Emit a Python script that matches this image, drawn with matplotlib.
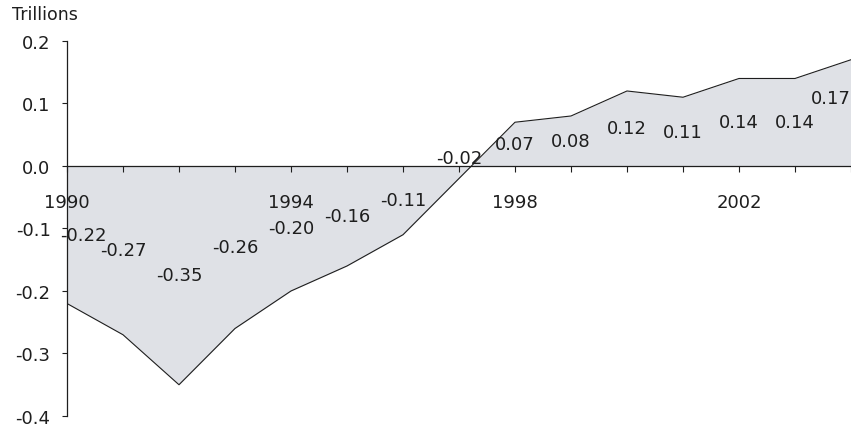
import matplotlib
matplotlib.use('Agg')
import matplotlib.pyplot as plt

plt.rcParams['font.family'] = ['DejaVu Sans']

# Yearly balance, trillions
years = list(range(1990, 2005))
values = [-0.22, -0.27, -0.35, -0.26, -0.20, -0.16, -0.11, -0.02,
          0.07, 0.08, 0.12, 0.11, 0.14, 0.14, 0.17]
label_years = [1990, 1994, 1998, 2002]
y_ticks = [0.2, 0.1, 0.0, -0.1, -0.2, -0.3, -0.4]

ink = '#1e1e1e'
fig = plt.figure(figsize=(8.51, 4.31), dpi=100)
ax = fig.add_axes([0.0787, 0.0325, 0.9213, 0.8701])

ax.fill_between(years, values, 0, color='#dfe1e6', linewidth=0)
ax.plot(years, values, color=ink, linewidth=0.8)

# data labels sit halfway between the line and zero
offsets = {1990: (11.5, 0), 1997: (0, 10.5), 2004: (-14.5, 11)}
for yr, v in zip(years, values):
    dx, dy = offsets.get(yr, (0, 0))
    ax.annotate(f'{v:.2f}', (yr, v / 2), xytext=(dx, dy),
                textcoords='offset points', ha='center', va='center',
                fontsize=13, color=ink)

ax.set_xlim(1990, 2004)
ax.set_ylim(-0.4, 0.2)
ax.set_yticks(y_ticks)
ax.set_yticklabels([f'{t:.1f}' for t in y_ticks])
ax.set_xticks(years)
ax.set_xticklabels([str(y) if y in label_years else '' for y in years])

for s in ['top', 'right']:
    ax.spines[s].set_visible(False)
ax.spines['bottom'].set_position(('data', 0))
ax.spines['bottom'].set_linewidth(0.9)
ax.spines['left'].set_linewidth(0.9)
ax.spines['bottom'].set_color(ink)
ax.spines['left'].set_color(ink)

ax.tick_params(axis='x', direction='out', length=4.5, width=0.8,
               pad=15, labelsize=13, colors=ink)
ax.tick_params(axis='y', direction='out', length=3.8, width=0.8,
               pad=8, labelsize=13, colors=ink)

fig.text(12 / 851, 1 - 15 / 431, 'Trillions', fontsize=12.5, color=ink,
         ha='left', va='center')

fig.savefig('out.png', dpi=100)
